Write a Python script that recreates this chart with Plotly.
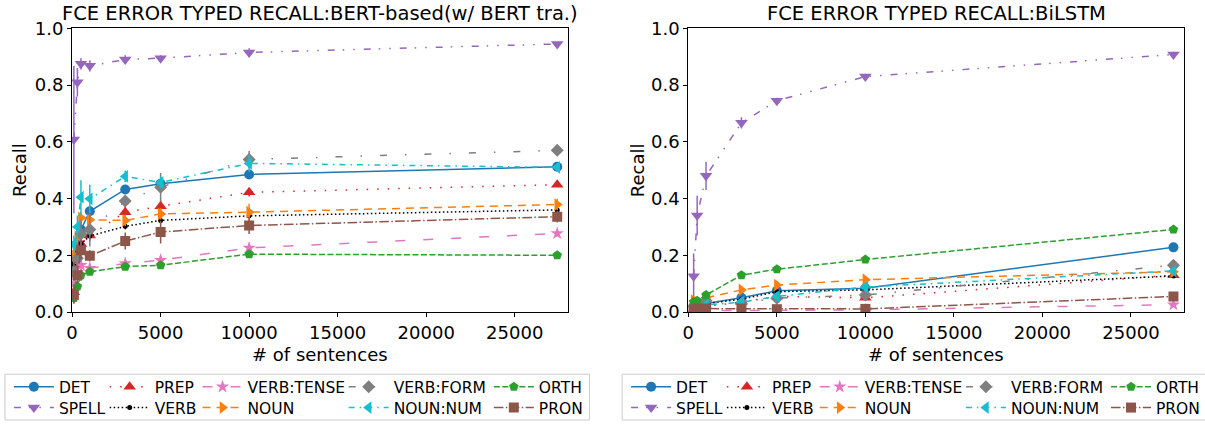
import plotly.graph_objects as go

W, H = 1205, 425

# ---- data -------------------------------------------------------------
sentences_bert = [100, 300, 500, 1000, 3000, 5000, 10000, 27400]
sentences_lstm = [300, 500, 1000, 3000, 5000, 10000, 27400]

error_types = ["DET", "SPELL", "PREP", "VERB", "VERB:TENSE",
               "NOUN", "VERB:FORM", "NOUN:NUM", "ORTH", "PRON"]

x_tick_values = [0, 5000, 10000, 15000, 20000, 25000]
x_tick_labels = ["0", "5000", "10000", "15000", "20000", "25000"]
y_tick_values = [0.0, 0.2, 0.4, 0.6, 0.8, 1.0]

# BERT-based recall per error type
bert_det = [0.17, 0.23, 0.29, 0.355, 0.432, 0.452, 0.485, 0.512]
bert_spell = [0.608, 0.81, 0.875, 0.868, 0.89, 0.895, 0.915, 0.945]
bert_prep = [0.07, 0.17, 0.24, 0.27, 0.352, 0.373, 0.422, 0.449]
bert_verb = [0.17, 0.21, 0.24, 0.268, 0.302, 0.323, 0.339, 0.36]
bert_verb_tense = [0.10, 0.14, 0.165, 0.155, 0.171, 0.183, 0.226, 0.277]
bert_noun = [0.20, 0.265, 0.332, 0.325, 0.323, 0.346, 0.352, 0.379]
bert_verb_form = [0.14, 0.19, 0.275, 0.291, 0.391, 0.44, 0.538, 0.57]
bert_noun_num = [0.24, 0.30, 0.405, 0.399, 0.478, 0.457, 0.524, 0.510]
bert_orth = [0.05, 0.09, 0.13, 0.142, 0.16, 0.165, 0.204, 0.20]
bert_pron = [0.06, 0.13, 0.218, 0.198, 0.25, 0.282, 0.305, 0.336]

bert_det_sd = [0.03, 0.03, 0.03, 0.02, 0.015, 0.01, 0.01, 0.005]
bert_spell_sd = [0.26, 0.05, 0.02, 0.02, 0.015, 0.01, 0.015, 0.005]
bert_prep_sd = [0.02, 0.03, 0.03, 0.02, 0.02, 0.02, 0.015, 0.005]
bert_verb_sd = [0.02, 0.02, 0.02, 0.01, 0.01, 0.01, 0.005, 0.005]
bert_verb_tense_sd = [0.02, 0.02, 0.02, 0.01, 0.015, 0.015, 0.015, 0.01]
bert_noun_sd = [0.03, 0.05, 0.02, 0.02, 0.02, 0.02, 0.03, 0.02]
bert_verb_form_sd = [0.03, 0.05, 0.05, 0.06, 0.02, 0.05, 0.03, 0.01]
bert_noun_num_sd = [0.03, 0.04, 0.06, 0.05, 0.02, 0.02, 0.03, 0.01]
bert_orth_sd = [0.02, 0.02, 0.02, 0.01, 0.01, 0.01, 0.01, 0.005]
bert_pron_sd = [0.03, 0.03, 0.03, 0.02, 0.03, 0.04, 0.03, 0.02]

# BiLSTM recall per error type
lstm_det = [0.02, 0.025, 0.03, 0.05, 0.075, 0.084, 0.228]
lstm_spell = [0.126, 0.34, 0.48, 0.667, 0.745, 0.83, 0.908]
lstm_prep = [0.01, 0.015, 0.02, 0.035, 0.055, 0.05, 0.13]
lstm_verb = [0.02, 0.025, 0.03, 0.045, 0.072, 0.078, 0.127]
lstm_verb_tense = [0.005, 0.005, 0.007, 0.005, 0.006, 0.008, 0.026]
lstm_noun = [0.04, 0.035, 0.05, 0.078, 0.095, 0.114, 0.142]
lstm_verb_form = [0.02, 0.03, 0.04, 0.031, 0.049, 0.06, 0.165]
lstm_noun_num = [0.02, 0.02, 0.025, 0.035, 0.055, 0.088, 0.145]
lstm_orth = [0.035, 0.04, 0.06, 0.13, 0.151, 0.185, 0.291]
lstm_pron = [0.01, 0.012, 0.012, 0.012, 0.01, 0.011, 0.055]

lstm_det_sd = [0.005, 0.005, 0.005, 0.005, 0.005, 0.005, 0.005]
lstm_spell_sd = [0.08, 0.07, 0.05, 0.02, 0.01, 0.01, 0.01]
lstm_prep_sd = [0.005, 0.005, 0.005, 0.005, 0.005, 0.005, 0.005]
lstm_verb_sd = [0.005, 0.005, 0.005, 0.005, 0.005, 0.005, 0.005]
lstm_verb_tense_sd = [0.003, 0.003, 0.003, 0.003, 0.003, 0.003, 0.005]
lstm_noun_sd = [0.01, 0.01, 0.01, 0.01, 0.015, 0.005, 0.005]
lstm_verb_form_sd = [0.01, 0.01, 0.01, 0.01, 0.01, 0.01, 0.01]
lstm_noun_num_sd = [0.005, 0.005, 0.005, 0.005, 0.01, 0.01, 0.01]
lstm_orth_sd = [0.01, 0.01, 0.01, 0.005, 0.005, 0.005, 0.005]
lstm_pron_sd = [0.005, 0.005, 0.005, 0.005, 0.005, 0.005, 0.005]

bert_series = [bert_det, bert_spell, bert_prep, bert_verb, bert_verb_tense,
               bert_noun, bert_verb_form, bert_noun_num, bert_orth, bert_pron]
bert_sds = [bert_det_sd, bert_spell_sd, bert_prep_sd, bert_verb_sd, bert_verb_tense_sd,
            bert_noun_sd, bert_verb_form_sd, bert_noun_num_sd, bert_orth_sd, bert_pron_sd]
lstm_series = [lstm_det, lstm_spell, lstm_prep, lstm_verb, lstm_verb_tense,
               lstm_noun, lstm_verb_form, lstm_noun_num, lstm_orth, lstm_pron]
lstm_sds = [lstm_det_sd, lstm_spell_sd, lstm_prep_sd, lstm_verb_sd, lstm_verb_tense_sd,
            lstm_noun_sd, lstm_verb_form_sd, lstm_noun_num_sd, lstm_orth_sd, lstm_pron_sd]

# ---- styling ----------------------------------------------------------
colors = ["#1f77b4", "#9467bd", "#d62728", "#000000", "#e377c2",
          "#ff7f0e", "#7f7f7f", "#17becf", "#2ca02c", "#8c564b"]
symbols = ["circle", "triangle-down", "triangle-up", "circle", "star",
           "triangle-right", "diamond", "triangle-left", "pentagon", "square"]
sizes = [10, 11, 11, 5, 10, 11, 10, 11, 10, 10]
dashes = ["solid", "7px,8px,1.5px,9px,1.5px,9px", "1.5px,9px", "1.5px,2.5px",
          "10px,18px", "8px,6px", "7px,18px,1.5px,18px", "6px,5px,1.5px,5px",
          "6px,2.5px", "9.6px,2.4px,1.5px,2.4px"]

FONT = "DejaVu Sans"


def px_x(v):
    return v / W


def px_y(v):
    return 1 - v / H


def legend_key(idx):
    return "legend" if idx == 1 else f"legend{idx}"


fig = go.Figure()

panels = [
    ("x", "y", sentences_bert, bert_series, bert_sds),
    ("x2", "y2", sentences_lstm, lstm_series, lstm_sds),
]
for p, (xa, ya, xs, series, sds) in enumerate(panels):
    for i, name in enumerate(error_types):
        fig.add_trace(go.Scatter(
            x=xs, y=series[i], name=name, xaxis=xa, yaxis=ya,
            mode="lines+markers", showlegend=True,
            line=dict(color=colors[i], width=1.5, dash=dashes[i]),
            marker=dict(symbol=symbols[i], size=sizes[i], color=colors[i],
                        line=dict(width=0)),
            error_y=dict(type="data", array=sds[i], visible=True,
                         color=colors[i], thickness=1.5, width=0),
            legend=legend_key(p * 10 + i + 1),
        ))

axis_common = dict(
    showline=True, linecolor="black", linewidth=1, mirror=True,
    ticks="outside", ticklen=4, tickwidth=1, tickcolor="black",
    showgrid=False, zeroline=False, automargin=False,
    tickfont=dict(family=FONT, size=18, color="black"),
)
xdom_left = [px_x(73), px_x(575)]
xdom_right = [px_x(697), px_x(1199)]
ydom = [px_y(313.5), px_y(28.5)]

fig.update_layout(
    template="none",
    showlegend=True,
    width=W, height=H,
    margin=dict(l=0, r=0, t=0, b=0, pad=0),
    paper_bgcolor="white", plot_bgcolor="white",
    font=dict(family=FONT, color="black"),
    xaxis=dict(domain=xdom_left, range=[0, 28000], tickvals=x_tick_values,
               ticktext=x_tick_labels, anchor="y", **axis_common),
    yaxis=dict(domain=ydom, range=[0, 1], tickvals=y_tick_values,
               tickformat=".1f", anchor="x", **axis_common),
    xaxis2=dict(domain=xdom_right, range=[0, 28000], tickvals=x_tick_values,
                ticktext=x_tick_labels, anchor="y2", **axis_common),
    yaxis2=dict(domain=ydom, range=[0, 1], tickvals=y_tick_values,
                tickformat=".1f", anchor="x2", **axis_common),
)

# legends: one entry each, arranged as five two-row columns under each panel
col_offsets = [9, 106, 200, 348, 495]
row_centers = [389, 410]
box_lefts = [5, 630]
legend_layout = {}
for p, box_left in enumerate(box_lefts):
    for i in range(len(error_types)):
        col, row = i // 2, i % 2
        legend_layout[legend_key(p * 10 + i + 1)] = dict(
            x=px_x(box_left + col_offsets[col] - 5), y=px_y(row_centers[row]),
            xanchor="left", yanchor="middle",
            orientation="v", bgcolor="rgba(0,0,0,0)", borderwidth=0,
            font=dict(family=FONT, size=15.5, color="black"),
            tracegroupgap=0, itemwidth=40, visible=True,
        )
fig.update_layout(**legend_layout)

# legend frames
for box_left in box_lefts:
    fig.add_shape(type="rect", xref="paper", yref="paper",
                  x0=px_x(box_left), x1=px_x(box_left + 592),
                  y0=px_y(422), y1=px_y(376),
                  line=dict(color="#cccccc", width=1), fillcolor="rgba(0,0,0,0)",
                  layer="above")

# titles and axis labels
titles = [("FCE ERROR TYPED RECALL:BERT-based(w/ BERT tra.)", 324),
          ("FCE ERROR TYPED RECALL:BiLSTM", 948)]
for text, cx in titles:
    fig.add_annotation(text=text, x=px_x(cx), y=px_y(14), xref="paper", yref="paper",
                       showarrow=False, xanchor="center", yanchor="middle",
                       font=dict(family=FONT, size=19.5, color="black"))
for cx in [324, 948]:
    fig.add_annotation(text="# of sentences", x=px_x(cx), y=px_y(356), xref="paper", yref="paper",
                       showarrow=False, xanchor="center", yanchor="middle",
                       font=dict(family=FONT, size=18, color="black"))
for cx in [19, 645]:
    fig.add_annotation(text="Recall", x=px_x(cx), y=px_y(171), xref="paper", yref="paper",
                       showarrow=False, xanchor="center", yanchor="middle", textangle=-90,
                       font=dict(family=FONT, size=18, color="black"))

fig.write_html("out.html")
